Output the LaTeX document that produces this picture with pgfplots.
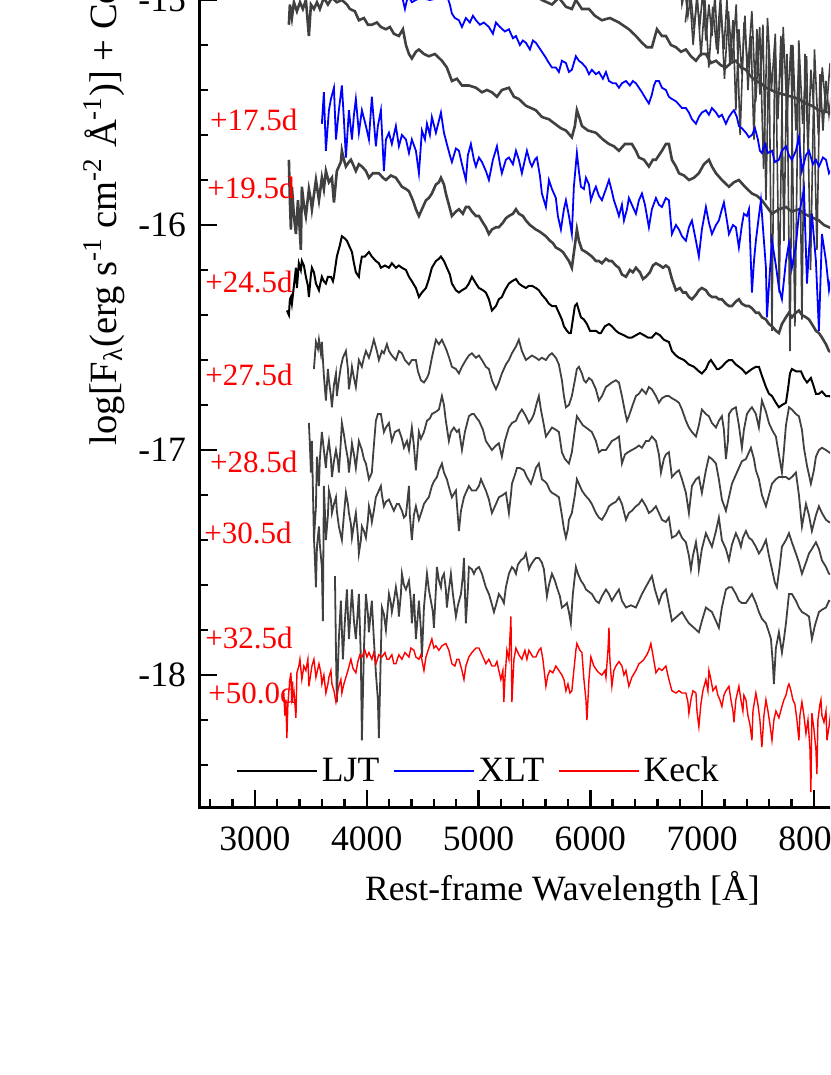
\documentclass[border=0pt]{standalone}
\usepackage{pgfplots}
\pgfplotsset{compat=1.18}
\usepackage{fontspec}
\setmainfont{Liberation Serif}
\definecolor{ljtgray}{RGB}{64,64,64}
\definecolor{xltblue}{RGB}{0,0,255}
\definecolor{keckred}{RGB}{255,0,0}

\begin{document}
\begin{tikzpicture}
\useasboundingbox (0,0) rectangle (415pt,537.5pt);
\clip (0,0) rectangle (415pt,537.5pt);
\begin{axis}[
  at={(99.5pt,133.5pt)}, anchor=south west,
  scale only axis, width=363.35pt, height=629pt,
  xmin=2500, xmax=9000, ymin=-18.591, ymax=-13,
  xtick={3000,4000,...,9000}, minor xtick={2600,2800,...,9000},
  ytick={-18,-17,-16,-15,-14,-13}, minor ytick={-18.4,-18.2,...,-13},
  tick pos=left, tick align=inside,
  major tick length=9pt, minor tick length=4.5pt,
  every tick/.append style={black, line width=1.2pt},
  axis line style={line width=1.5pt},
  /pgf/number format/assume math mode=true,
  /pgf/number format/1000 sep={},
  tick label style={font=\fontsize{17.8}{21}\selectfont},
  xticklabel style={yshift=-6pt},
  yticklabel style={xshift=-3pt},
  xlabel style={font=\fontsize{17.8}{21}\selectfont, yshift=-3pt},
  ylabel style={font=\fontsize{19.3}{23}\selectfont, at={(ticklabel cs:0.508)}},
  xlabel={Rest-frame Wavelength [Å]},
  ylabel={log[F\textsubscript{λ}(erg s\textsuperscript{-1} cm\textsuperscript{-2} Å\textsuperscript{-1})] + Constant},
  legend style={at={(axis cs:2780,-18.427)}, anchor=west, draw=none, fill=none,
    legend columns=-1, font=\fontsize{17.8}{21}\selectfont,
    /tikz/every even column/.append style={column sep=5pt}},
  legend image code/.code={\draw[#1] (0pt,0pt) -- (40pt,0pt);},
]
\addlegendimage{black, line width=0.6pt}
\addlegendentry{LJT}
\addlegendimage{xltblue, line width=0.6pt}
\addlegendentry{XLT}
\addlegendimage{keckred, line width=0.6pt}
\addlegendentry{Keck}

% noisy top-right LJT spectrum (two interleaved readings of the dense band)
\addplot[ljtgray, line width=0.8pt, forget plot] coordinates {
(6802,-14.87) (6820,-15.02) (6847,-14.96) (6873,-15.07) (6900,-14.98) (6927,-15.13)
(6954,-15.00) (6980,-15.11) (7007,-14.96) (7034,-15.18) (7061,-15.02) (7088,-15.16)
(7115,-14.98) (7141,-15.24) (7168,-15.04) (7195,-15.22) (7222,-15.00) (7249,-15.29)
(7276,-15.09) (7302,-15.49) (7329,-15.13) (7356,-15.33) (7383,-15.07) (7410,-15.40)
(7437,-15.16) (7464,-15.62) (7490,-15.13) (7517,-15.42) (7544,-15.11) (7571,-15.89)
(7598,-15.20) (7625,-16.47) (7651,-15.18) (7678,-15.53) (7705,-15.16) (7732,-16.07)
(7759,-15.24) (7786,-16.56) (7812,-15.20) (7839,-15.58) (7866,-15.27) (7893,-16.42)
(7920,-15.24) (7947,-15.67) (7973,-15.31) (8000,-15.49) (8027,-16.11) (8054,-15.33)
(8081,-15.58) (8108,-15.36) (8135,-15.51) (8161,-15.40) (8233,-15.53)
};
\addplot[ljtgray, line width=0.8pt, forget plot] coordinates {
(6850,-15.10) (6885,-14.95) (6920,-15.20) (6955,-14.97) (6990,-15.25) (7025,-15.00)
(7060,-15.30) (7095,-15.03) (7130,-15.22) (7165,-14.98) (7200,-15.35) (7235,-15.05)
(7270,-15.28) (7305,-15.02) (7340,-15.60) (7375,-15.10) (7410,-15.30) (7445,-15.05)
(7480,-15.45) (7515,-15.12) (7550,-15.75) (7585,-15.08) (7620,-15.40) (7655,-15.15)
(7690,-16.30) (7725,-15.12) (7760,-15.50) (7795,-15.20) (7830,-16.45) (7865,-15.18)
(7900,-15.55) (7935,-15.25) (7970,-16.20) (8005,-15.22) (8040,-15.60) (8075,-15.30)
(8110,-15.50) (8145,-15.28) (8180,-15.55) (8233,-15.35)
};
% top LJT spectrum
\addplot[ljtgray, line width=1.3pt, forget plot] coordinates {
(4655,-14.87) (5013,-14.89) (5370,-14.93) (5567,-15.00) (5657,-15.02) (5719,-14.99)
(5782,-15.03) (5835,-15.04) (5871,-15.00) (5925,-15.04) (5988,-15.04) (6041,-15.07)
(6104,-15.09) (6175,-15.08) (6256,-15.10) (6345,-15.13) (6408,-15.16) (6462,-15.19)
(6506,-15.21) (6551,-15.21) (6596,-15.13) (6641,-15.16) (6676,-15.16) (6721,-15.20)
(6766,-15.21) (6811,-15.23) (6855,-15.22) (6900,-15.25) (6945,-15.27) (6989,-15.24)
(7034,-15.24) (7079,-15.28) (7124,-15.27) (7168,-15.29) (7213,-15.30) (7258,-15.28)
(7302,-15.27) (7347,-15.30) (7392,-15.31) (7437,-15.34) (7481,-15.36) (7526,-15.37)
(7571,-15.39) (7616,-15.40) (7660,-15.41) (7732,-15.42) (7803,-15.43) (7866,-15.44)
(7929,-15.46) (7982,-15.47) (8045,-15.49) (8135,-15.50) (8233,-15.52)
};
% XLT upper
\addplot[xltblue, line width=0.9pt, forget plot] coordinates {
(4279,-14.89) (4324,-15.00) (4342,-15.04) (4369,-14.98) (4404,-15.01) (4476,-14.99)
(4565,-15.00) (4655,-14.99) (4717,-14.98) (4744,-15.02) (4762,-15.06) (4789,-15.08)
(4825,-15.09) (4852,-15.12) (4887,-15.08) (4923,-15.10) (4950,-15.07) (4977,-15.09)
(5013,-15.11) (5048,-15.10) (5093,-15.12) (5129,-15.15) (5156,-15.10) (5192,-15.12)
(5236,-15.14) (5272,-15.13) (5308,-15.17) (5335,-15.16) (5370,-15.20) (5397,-15.18)
(5424,-15.19) (5460,-15.22) (5487,-15.18) (5513,-15.19) (5540,-15.21) (5567,-15.23)
(5594,-15.25) (5630,-15.28) (5657,-15.30) (5692,-15.30) (5719,-15.32) (5746,-15.27)
(5782,-15.28) (5809,-15.32) (5835,-15.31) (5871,-15.25) (5898,-15.27) (5925,-15.28)
(5961,-15.30) (5988,-15.33) (6014,-15.31) (6050,-15.33) (6077,-15.32) (6113,-15.35)
(6140,-15.32) (6167,-15.36) (6202,-15.37) (6229,-15.37) (6256,-15.39) (6283,-15.37)
(6319,-15.36) (6354,-15.38) (6381,-15.36) (6408,-15.37) (6435,-15.39) (6462,-15.41)
(6498,-15.44) (6524,-15.46) (6551,-15.42) (6569,-15.38) (6587,-15.36) (6614,-15.36)
(6641,-15.39) (6676,-15.40) (6703,-15.43) (6730,-15.44) (6766,-15.45) (6820,-15.48)
(6855,-15.48) (6882,-15.50) (6909,-15.53) (6945,-15.55) (6971,-15.52) (6998,-15.50)
(7034,-15.49) (7061,-15.51) (7088,-15.48) (7124,-15.50) (7150,-15.52) (7177,-15.51)
(7213,-15.55) (7240,-15.52) (7267,-15.50) (7285,-15.49) (7311,-15.52) (7329,-15.56)
(7356,-15.57) (7392,-15.59) (7419,-15.61) (7446,-15.60) (7473,-15.57) (7499,-15.62)
(7517,-15.67) (7535,-15.68) (7562,-15.64) (7589,-15.68) (7625,-15.67) (7651,-15.72)
(7687,-15.71) (7714,-15.67) (7750,-15.65) (7777,-15.69) (7803,-15.71) (7839,-15.67)
(7866,-15.61) (7893,-15.76) (7929,-15.69) (7956,-15.67) (7991,-15.73) (8018,-15.71)
(8045,-15.74) (8081,-15.70) (8108,-15.71) (8135,-15.77) (8188,-15.73) (8233,-15.78)
};
% LJT upper-middle
\addplot[ljtgray, line width=1.3pt, forget plot] coordinates {
(3304,-15.11) (3313,-15.02) (3331,-15.08) (3349,-15.01) (3376,-15.05) (3403,-15.01)
(3429,-15.04) (3456,-15.00) (3483,-15.16) (3501,-15.02) (3528,-15.04) (3555,-15.01)
(3581,-15.04) (3617,-14.99) (3653,-15.02) (3689,-14.99) (3733,-15.01) (3778,-15.00)
(3823,-15.02) (3850,-15.04) (3894,-15.05) (3930,-15.09) (3975,-15.08) (4011,-15.11)
(4046,-15.11) (4091,-15.10) (4127,-15.12) (4172,-15.13) (4208,-15.12) (4243,-15.15)
(4288,-15.16) (4324,-15.13) (4351,-15.20) (4378,-15.24) (4404,-15.26) (4440,-15.23)
(4467,-15.22) (4512,-15.24) (4556,-15.25) (4610,-15.24) (4673,-15.27) (4717,-15.30)
(4762,-15.36) (4807,-15.35) (4852,-15.38) (4914,-15.38) (4977,-15.39) (5031,-15.41)
(5075,-15.40) (5120,-15.41) (5165,-15.43) (5209,-15.40) (5272,-15.39) (5317,-15.43)
(5361,-15.44) (5424,-15.47) (5469,-15.48) (5513,-15.49) (5567,-15.52) (5630,-15.53)
(5683,-15.55) (5737,-15.57) (5782,-15.58) (5835,-15.61) (5862,-15.56) (5880,-15.49)
(5907,-15.53) (5925,-15.56) (5979,-15.58) (6050,-15.59) (6113,-15.62) (6167,-15.64)
(6211,-15.65) (6256,-15.67) (6310,-15.64) (6372,-15.64) (6408,-15.67) (6435,-15.70)
(6480,-15.71) (6524,-15.74) (6560,-15.71) (6587,-15.71) (6641,-15.67) (6676,-15.64)
(6703,-15.64) (6730,-15.71) (6766,-15.74) (6793,-15.77) (6838,-15.78) (6882,-15.80)
(6927,-15.79) (6971,-15.77) (7016,-15.73) (7061,-15.71) (7088,-15.74) (7124,-15.77)
(7177,-15.80) (7240,-15.83) (7285,-15.81) (7329,-15.80) (7383,-15.83) (7446,-15.86)
(7490,-15.87) (7535,-15.89) (7580,-15.92) (7625,-15.95) (7687,-15.93) (7750,-15.92)
(7803,-15.94) (7866,-15.93) (7911,-15.95) (7956,-15.96) (8000,-15.97) (8045,-15.98)
(8090,-16.00) (8135,-16.01) (8233,-16.03)
};
% XLT +17.5d
\addplot[xltblue, line width=0.9pt, forget plot] coordinates {
(3599,-15.55) (3617,-15.41) (3635,-15.67) (3662,-15.49) (3680,-15.44) (3707,-15.39)
(3725,-15.62) (3751,-15.49) (3778,-15.38) (3796,-15.53) (3814,-15.70) (3841,-15.49)
(3868,-15.62) (3886,-15.51) (3903,-15.44) (3930,-15.59) (3957,-15.49) (3993,-15.56)
(4020,-15.62) (4046,-15.43) (4082,-15.65) (4100,-15.56) (4127,-15.49) (4154,-15.76)
(4172,-15.62) (4199,-15.59) (4225,-15.64) (4261,-15.56) (4288,-15.65) (4315,-15.60)
(4351,-15.62) (4378,-15.68) (4404,-15.62) (4440,-15.67) (4467,-15.77) (4494,-15.58)
(4521,-15.62) (4539,-15.55) (4565,-15.60) (4583,-15.52) (4619,-15.59) (4664,-15.50)
(4691,-15.59) (4717,-15.64) (4744,-15.69) (4762,-15.72) (4798,-15.66) (4825,-15.67)
(4852,-15.73) (4887,-15.80) (4905,-15.69) (4932,-15.64) (4959,-15.71) (4977,-15.74)
(5004,-15.70) (5031,-15.72) (5066,-15.76) (5093,-15.80) (5129,-15.71) (5165,-15.65)
(5192,-15.73) (5209,-15.77) (5245,-15.71) (5272,-15.70) (5308,-15.73) (5335,-15.67)
(5361,-15.71) (5388,-15.77) (5415,-15.71) (5433,-15.67) (5460,-15.72) (5478,-15.74)
(5504,-15.71) (5522,-15.70) (5549,-15.78) (5567,-15.86) (5603,-15.92) (5630,-15.80)
(5657,-15.84) (5692,-15.88) (5710,-15.96) (5737,-16.02) (5764,-15.93) (5782,-15.89)
(5809,-15.96) (5835,-16.04) (5853,-15.83) (5880,-15.68) (5898,-15.76) (5916,-15.83)
(5943,-15.84) (5961,-15.79) (5988,-15.82) (6005,-15.89) (6032,-15.85) (6050,-15.83)
(6077,-15.87) (6104,-15.89) (6140,-15.84) (6167,-15.80) (6193,-15.85) (6211,-15.89)
(6238,-15.93) (6256,-15.96) (6283,-15.91) (6301,-15.98) (6328,-15.93) (6345,-15.88)
(6372,-15.91) (6408,-15.95) (6435,-15.89) (6462,-15.86) (6489,-15.91) (6524,-16.01)
(6551,-15.93) (6587,-15.88) (6614,-15.91) (6641,-15.92) (6676,-15.88) (6703,-15.89)
(6730,-16.04) (6766,-16.00) (6793,-16.02) (6820,-16.05) (6855,-16.07) (6882,-16.01)
(6909,-15.98) (6945,-16.07) (6971,-16.14) (6998,-16.02) (7034,-15.92) (7061,-15.99)
(7088,-16.04) (7124,-16.00) (7150,-15.98) (7177,-15.93) (7195,-15.90) (7222,-15.98)
(7240,-16.04) (7276,-16.00) (7302,-16.01) (7329,-16.10) (7356,-16.00) (7374,-15.95)
(7401,-15.96) (7419,-15.93) (7446,-16.30) (7464,-16.16) (7481,-16.07) (7508,-15.96)
(7526,-15.89) (7553,-16.07) (7571,-16.19) (7580,-16.41) (7607,-16.20) (7625,-16.07)
(7660,-16.18) (7687,-16.28) (7714,-16.33) (7750,-16.16) (7777,-16.08) (7803,-16.19)
(7839,-16.09) (7866,-15.95) (7893,-15.89) (7911,-15.84) (7938,-16.26) (7956,-16.11)
(7982,-15.95) (8018,-16.16) (8045,-16.47) (8072,-16.04) (8108,-16.16) (8135,-16.29)
(8188,-16.13) (8233,-16.22)
};
% LJT +19.5d
\addplot[ljtgray, line width=1.3pt, forget plot] coordinates {
(3304,-15.71) (3313,-15.89) (3322,-16.02) (3331,-15.83) (3349,-15.96) (3367,-16.04)
(3385,-15.89) (3393,-15.95) (3411,-16.11) (3420,-15.83) (3438,-15.91) (3456,-15.96)
(3483,-15.84) (3501,-15.89) (3510,-15.93) (3546,-15.80) (3573,-15.89) (3599,-15.79)
(3617,-15.84) (3635,-15.76) (3662,-15.81) (3689,-15.79) (3707,-15.90) (3733,-15.76)
(3769,-15.72) (3778,-15.67) (3796,-15.71) (3814,-15.74) (3841,-15.72) (3859,-15.71)
(3886,-15.74) (3903,-15.76) (3930,-15.73) (3957,-15.74) (3993,-15.76) (4020,-15.79)
(4055,-15.77) (4109,-15.77) (4145,-15.79) (4172,-15.80) (4216,-15.78) (4261,-15.79)
(4288,-15.81) (4315,-15.83) (4351,-15.84) (4378,-15.85) (4413,-15.89) (4440,-15.93)
(4467,-15.96) (4503,-15.92) (4530,-15.89) (4556,-15.88) (4583,-15.86) (4619,-15.82)
(4646,-15.81) (4664,-15.79) (4691,-15.82) (4708,-15.86) (4735,-15.91) (4762,-15.96)
(4798,-15.94) (4825,-15.93) (4860,-15.95) (4887,-15.92) (4914,-15.92) (4941,-15.94)
(4977,-15.96) (5004,-15.96) (5040,-15.99) (5066,-16.01) (5093,-16.04) (5120,-16.02)
(5156,-16.01) (5182,-16.01) (5218,-15.99) (5245,-15.97) (5272,-15.96) (5308,-15.95)
(5335,-15.93) (5361,-15.95) (5397,-15.96) (5424,-15.98) (5460,-16.00) (5487,-16.01)
(5513,-16.02) (5549,-16.03) (5576,-16.04) (5603,-16.05) (5639,-16.07) (5665,-16.08)
(5692,-16.10) (5728,-16.11) (5755,-16.12) (5782,-16.14) (5809,-16.16) (5835,-16.19)
(5862,-16.09) (5880,-16.02) (5898,-16.07) (5925,-16.11) (5961,-16.12) (5988,-16.13)
(6014,-16.14) (6050,-16.16) (6077,-16.16) (6104,-16.17) (6140,-16.15) (6167,-16.16)
(6193,-16.16) (6229,-16.18) (6256,-16.19) (6283,-16.22) (6319,-16.23) (6354,-16.20)
(6381,-16.21) (6408,-16.19) (6444,-16.21) (6471,-16.24) (6498,-16.23) (6533,-16.21)
(6560,-16.18) (6587,-16.17) (6623,-16.18) (6650,-16.19) (6676,-16.18) (6703,-16.19)
(6730,-16.24) (6766,-16.29) (6802,-16.28) (6829,-16.30) (6855,-16.30) (6882,-16.32)
(6909,-16.33) (6945,-16.31) (6971,-16.29) (6998,-16.28) (7034,-16.29) (7061,-16.31)
(7088,-16.32) (7124,-16.32) (7150,-16.33) (7177,-16.33) (7213,-16.35) (7240,-16.36)
(7267,-16.36) (7302,-16.34) (7329,-16.33) (7356,-16.35) (7392,-16.36) (7419,-16.36)
(7446,-16.37) (7481,-16.39) (7508,-16.39) (7535,-16.41) (7571,-16.42) (7598,-16.44)
(7625,-16.45) (7660,-16.47) (7687,-16.48) (7714,-16.44) (7750,-16.41) (7777,-16.39)
(7803,-16.41) (7839,-16.39) (7866,-16.38) (7893,-16.40) (7929,-16.41) (7956,-16.42)
(7982,-16.44) (8018,-16.47) (8045,-16.48) (8072,-16.50) (8108,-16.53) (8135,-16.56)
(8233,-16.58)
};
% LJT +24.5d
\addplot[black, line width=1.0pt, forget plot] coordinates {
(3286,-16.38) (3304,-16.40) (3313,-16.33) (3322,-16.32) (3331,-16.35) (3349,-16.27)
(3367,-16.19) (3376,-16.28) (3393,-16.17) (3411,-16.20) (3420,-16.16) (3438,-16.18)
(3456,-16.23) (3474,-16.27) (3483,-16.32) (3501,-16.22) (3510,-16.19) (3528,-16.21)
(3546,-16.26) (3573,-16.29) (3581,-16.27) (3599,-16.23) (3617,-16.25) (3635,-16.26)
(3653,-16.23) (3680,-16.23) (3698,-16.25) (3707,-16.23) (3733,-16.14) (3760,-16.09)
(3778,-16.05) (3805,-16.06) (3823,-16.07) (3850,-16.10) (3868,-16.12) (3886,-16.17)
(3903,-16.21) (3930,-16.23) (3939,-16.19) (3957,-16.14) (3984,-16.14) (4020,-16.12)
(4046,-16.14) (4082,-16.16) (4109,-16.17) (4127,-16.19) (4163,-16.18) (4199,-16.19)
(4225,-16.17) (4261,-16.19) (4288,-16.18) (4315,-16.19) (4351,-16.20) (4378,-16.23)
(4404,-16.25) (4440,-16.28) (4467,-16.32) (4494,-16.30) (4530,-16.28) (4556,-16.24)
(4583,-16.19) (4619,-16.16) (4646,-16.15) (4664,-16.14) (4691,-16.16) (4717,-16.19)
(4744,-16.22) (4762,-16.26) (4798,-16.29) (4825,-16.30) (4852,-16.29) (4887,-16.28)
(4914,-16.26) (4941,-16.23) (4977,-16.26) (5004,-16.28) (5040,-16.29) (5066,-16.30)
(5093,-16.33) (5120,-16.38) (5156,-16.36) (5182,-16.33) (5209,-16.32) (5236,-16.29)
(5272,-16.26) (5299,-16.25) (5335,-16.24) (5361,-16.26) (5388,-16.27) (5424,-16.28)
(5451,-16.27) (5478,-16.27) (5513,-16.28) (5540,-16.29) (5567,-16.31) (5603,-16.33)
(5630,-16.35) (5657,-16.36) (5692,-16.36) (5719,-16.39) (5746,-16.42) (5764,-16.45)
(5791,-16.47) (5809,-16.48) (5826,-16.48) (5844,-16.42) (5862,-16.36) (5880,-16.35)
(5898,-16.38) (5916,-16.41) (5943,-16.42) (5970,-16.44) (5997,-16.47) (6023,-16.47)
(6050,-16.47) (6077,-16.48) (6095,-16.48) (6131,-16.45) (6167,-16.44) (6193,-16.45)
(6229,-16.47) (6256,-16.48) (6301,-16.49) (6337,-16.50) (6372,-16.50) (6408,-16.49)
(6444,-16.48) (6480,-16.49) (6515,-16.50) (6551,-16.50) (6587,-16.48) (6623,-16.49)
(6658,-16.51) (6703,-16.52) (6730,-16.56) (6766,-16.58) (6793,-16.59) (6838,-16.60)
(6882,-16.62) (6927,-16.63) (6971,-16.65) (6998,-16.66) (7034,-16.64) (7061,-16.61)
(7079,-16.60) (7106,-16.62) (7132,-16.64) (7150,-16.64) (7177,-16.63) (7213,-16.61)
(7240,-16.60) (7267,-16.60) (7302,-16.62) (7329,-16.63) (7356,-16.64) (7392,-16.66)
(7419,-16.65) (7446,-16.64) (7481,-16.63) (7508,-16.63) (7535,-16.67) (7571,-16.72)
(7598,-16.75) (7625,-16.76) (7660,-16.79) (7687,-16.81) (7714,-16.80) (7750,-16.79)
(7768,-16.73) (7786,-16.66) (7803,-16.64) (7839,-16.65) (7866,-16.65) (7884,-16.65)
(7911,-16.68) (7938,-16.70) (7956,-16.69) (7973,-16.68) (8000,-16.72) (8018,-16.75)
(8045,-16.75) (8072,-16.74) (8108,-16.76) (8135,-16.76) (8233,-16.78)
};
% LJT +27.5d
\addplot[ljtgray, line width=0.9pt, forget plot] coordinates {
(3528,-16.64) (3537,-16.58) (3546,-16.52) (3564,-16.55) (3573,-16.51) (3590,-16.57)
(3599,-16.52) (3617,-16.67) (3635,-16.78) (3653,-16.64) (3662,-16.69) (3680,-16.76)
(3689,-16.81) (3707,-16.71) (3725,-16.66) (3733,-16.76) (3751,-16.69) (3769,-16.63)
(3787,-16.59) (3814,-16.56) (3832,-16.64) (3841,-16.73) (3859,-16.67) (3868,-16.63)
(3886,-16.68) (3903,-16.72) (3921,-16.64) (3930,-16.60) (3957,-16.63) (3975,-16.59)
(3993,-16.56) (4020,-16.59) (4038,-16.56) (4064,-16.51) (4091,-16.56) (4109,-16.60)
(4136,-16.56) (4154,-16.57) (4181,-16.53) (4199,-16.56) (4225,-16.58) (4261,-16.60)
(4288,-16.56) (4315,-16.57) (4342,-16.60) (4378,-16.62) (4404,-16.60) (4440,-16.60)
(4458,-16.65) (4485,-16.69) (4512,-16.70) (4539,-16.68) (4556,-16.66) (4583,-16.59)
(4601,-16.55) (4619,-16.51) (4646,-16.53) (4673,-16.51) (4700,-16.54) (4717,-16.56)
(4744,-16.60) (4762,-16.63) (4798,-16.64) (4825,-16.66) (4852,-16.63) (4887,-16.60)
(4914,-16.58) (4941,-16.57) (4977,-16.59) (5004,-16.58) (5031,-16.60) (5066,-16.63)
(5093,-16.64) (5120,-16.69) (5156,-16.73) (5182,-16.70) (5209,-16.66) (5245,-16.62)
(5272,-16.60) (5299,-16.57) (5335,-16.54) (5361,-16.51) (5388,-16.56) (5424,-16.60)
(5451,-16.59) (5478,-16.58) (5513,-16.59) (5540,-16.60) (5567,-16.59) (5603,-16.60)
(5630,-16.58) (5657,-16.57) (5692,-16.59) (5719,-16.62) (5746,-16.69) (5764,-16.76)
(5782,-16.81) (5809,-16.80) (5835,-16.76) (5862,-16.69) (5880,-16.64) (5898,-16.63)
(5925,-16.66) (5943,-16.69) (5961,-16.70) (5988,-16.68) (6014,-16.69) (6050,-16.73)
(6077,-16.78) (6104,-16.76) (6140,-16.72) (6167,-16.71) (6193,-16.70) (6229,-16.69)
(6256,-16.70) (6283,-16.76) (6310,-16.83) (6328,-16.87) (6345,-16.85) (6372,-16.81)
(6408,-16.76) (6435,-16.75) (6462,-16.73) (6498,-16.75) (6524,-16.72) (6551,-16.73)
(6587,-16.76) (6614,-16.79) (6641,-16.77) (6676,-16.76) (6703,-16.76) (6730,-16.77)
(6766,-16.78) (6793,-16.79) (6820,-16.82) (6855,-16.87) (6882,-16.90) (6909,-16.92)
(6945,-16.94) (6971,-16.89) (6998,-16.82) (7034,-16.84) (7061,-16.85) (7088,-16.88)
(7124,-16.90) (7150,-16.87) (7177,-16.85) (7195,-16.91) (7213,-17.04) (7231,-16.96)
(7240,-16.84) (7267,-16.82) (7302,-16.81) (7329,-16.89) (7356,-16.99) (7374,-16.91)
(7401,-16.84) (7428,-16.82) (7446,-16.81) (7481,-16.84) (7508,-16.90) (7535,-16.78)
(7571,-16.83) (7598,-16.88) (7625,-16.91) (7660,-16.94) (7687,-17.02) (7714,-17.10)
(7732,-17.00) (7750,-16.89) (7777,-16.81) (7803,-16.82) (7839,-16.84) (7866,-16.85)
(7893,-16.91) (7911,-16.99) (7938,-17.07) (7956,-17.11) (7973,-17.15) (8000,-17.09)
(8018,-17.03) (8045,-17.00) (8072,-16.99) (8108,-17.00) (8135,-17.01) (8233,-17.04)
};
% LJT +28.5d
\addplot[ljtgray, line width=0.9pt, forget plot] coordinates {
(3483,-16.88) (3492,-16.98) (3501,-17.10) (3510,-16.96) (3519,-17.18) (3528,-17.40)
(3546,-17.25) (3555,-17.03) (3573,-17.16) (3581,-17.04) (3599,-16.92) (3617,-17.00)
(3635,-17.08) (3644,-17.02) (3662,-16.96) (3680,-17.04) (3689,-17.12) (3707,-17.05)
(3725,-17.00) (3742,-17.05) (3751,-17.10) (3769,-16.96) (3778,-16.88) (3796,-16.93)
(3814,-16.99) (3832,-17.04) (3841,-17.10) (3859,-17.02) (3868,-16.97) (3886,-17.02)
(3903,-17.08) (3921,-17.00) (3930,-16.96) (3957,-17.00) (3975,-17.04) (3993,-17.06)
(4020,-17.13) (4038,-17.11) (4046,-17.10) (4064,-16.98) (4082,-16.87) (4100,-16.84)
(4127,-16.84) (4154,-16.92) (4172,-16.90) (4199,-16.88) (4225,-16.96) (4252,-16.92)
(4288,-16.91) (4315,-16.95) (4333,-16.99) (4360,-16.96) (4378,-17.00) (4404,-16.90)
(4422,-16.98) (4440,-17.09) (4467,-16.92) (4485,-16.95) (4512,-16.92) (4539,-16.87)
(4565,-16.86) (4583,-16.84) (4619,-16.83) (4646,-16.82) (4673,-16.76) (4691,-16.80)
(4708,-16.87) (4735,-16.96) (4753,-16.92) (4780,-16.90) (4807,-16.92) (4825,-16.91)
(4852,-17.00) (4878,-16.92) (4914,-16.85) (4941,-16.84) (4959,-16.84) (4986,-16.86)
(5004,-16.87) (5040,-16.91) (5066,-16.96) (5093,-16.98) (5120,-17.00) (5156,-16.98)
(5182,-16.97) (5209,-17.03) (5236,-16.96) (5272,-16.90) (5299,-16.88) (5335,-16.87)
(5361,-16.84) (5388,-16.82) (5424,-16.85) (5451,-16.88) (5478,-16.86) (5496,-16.84)
(5522,-16.79) (5540,-16.76) (5558,-16.82) (5585,-16.89) (5603,-16.94) (5630,-16.92)
(5657,-16.90) (5692,-16.91) (5719,-16.92) (5746,-17.01) (5773,-17.04) (5809,-17.06)
(5835,-17.01) (5862,-16.91) (5880,-16.85) (5907,-16.87) (5934,-16.89) (5961,-16.90)
(5988,-16.91) (6014,-16.92) (6050,-16.96) (6077,-17.01) (6104,-17.00) (6140,-17.00)
(6167,-16.98) (6193,-16.96) (6229,-16.95) (6256,-16.94) (6283,-17.06) (6310,-17.02)
(6337,-17.01) (6372,-17.00) (6408,-16.99) (6435,-16.98) (6462,-16.99) (6498,-16.96)
(6524,-16.96) (6551,-16.94) (6587,-16.96) (6614,-17.02) (6632,-17.10) (6658,-17.04)
(6676,-17.02) (6703,-17.01) (6730,-17.12) (6766,-17.10) (6793,-17.09) (6820,-17.13)
(6855,-17.19) (6882,-17.28) (6909,-17.16) (6945,-17.13) (6971,-17.12) (6998,-17.19)
(7034,-17.09) (7061,-17.03) (7088,-17.04) (7124,-17.06) (7150,-17.13) (7177,-17.22)
(7213,-17.27) (7240,-17.21) (7267,-17.15) (7302,-17.11) (7329,-17.08) (7356,-17.05)
(7392,-17.04) (7419,-17.01) (7437,-16.99) (7464,-17.04) (7481,-17.09) (7508,-17.13)
(7535,-17.20) (7571,-17.25) (7598,-17.20) (7625,-17.15) (7660,-17.13) (7687,-17.12)
(7714,-17.12) (7750,-17.12) (7777,-17.13) (7803,-17.12) (7839,-17.10) (7866,-17.20)
(7893,-17.34) (7911,-17.29) (7929,-17.24) (7956,-17.29) (7982,-17.36) (8018,-17.29)
(8045,-17.25) (8072,-17.28) (8108,-17.31) (8135,-17.32) (8233,-17.34)
};
% LJT +30.5d
\addplot[ljtgray, line width=0.9pt, forget plot] coordinates {
(3528,-17.39) (3537,-17.49) (3546,-17.61) (3555,-17.43) (3573,-17.34) (3581,-17.42)
(3599,-17.52) (3608,-17.76) (3617,-17.16) (3626,-17.27) (3635,-17.40) (3653,-17.29)
(3662,-17.18) (3680,-17.22) (3689,-17.28) (3707,-17.24) (3725,-17.21) (3733,-17.27)
(3751,-17.34) (3778,-17.40) (3796,-17.29) (3814,-17.19) (3832,-17.24) (3841,-17.28)
(3859,-17.33) (3868,-17.39) (3886,-17.33) (3903,-17.28) (3921,-17.38) (3930,-17.46)
(3948,-17.40) (3957,-17.34) (3975,-17.36) (3993,-17.39) (4011,-17.31) (4020,-17.25)
(4038,-17.29) (4046,-17.32) (4064,-17.27) (4082,-17.21) (4100,-17.19) (4127,-17.16)
(4136,-17.20) (4154,-17.25) (4172,-17.23) (4199,-17.22) (4225,-17.25) (4243,-17.27)
(4270,-17.24) (4288,-17.24) (4315,-17.27) (4333,-17.30) (4351,-17.29) (4378,-17.16)
(4386,-17.29) (4404,-17.40) (4422,-17.29) (4440,-17.25) (4458,-17.29) (4467,-17.31)
(4494,-17.27) (4512,-17.24) (4539,-17.22) (4556,-17.21) (4583,-17.16) (4601,-17.14)
(4628,-17.12) (4646,-17.09) (4673,-17.06) (4691,-17.10) (4717,-17.13) (4744,-17.18)
(4762,-17.21) (4798,-17.18) (4825,-17.36) (4843,-17.27) (4870,-17.21) (4887,-17.19)
(4914,-17.16) (4941,-17.18) (4977,-17.18) (5004,-17.16) (5022,-17.13) (5048,-17.16)
(5066,-17.18) (5093,-17.22) (5120,-17.28) (5156,-17.24) (5182,-17.21) (5218,-17.20)
(5245,-17.19) (5272,-17.28) (5290,-17.20) (5299,-17.15) (5326,-17.11) (5344,-17.08)
(5370,-17.08) (5406,-17.09) (5433,-17.12) (5469,-17.15) (5496,-17.11) (5513,-17.08)
(5540,-17.06) (5567,-17.13) (5594,-17.14) (5612,-17.15) (5639,-17.18) (5657,-17.19)
(5692,-17.20) (5719,-17.21) (5746,-17.29) (5764,-17.35) (5782,-17.39) (5800,-17.35)
(5809,-17.31) (5835,-17.28) (5862,-17.20) (5880,-17.13) (5907,-17.16) (5925,-17.18)
(5952,-17.20) (5988,-17.22) (6014,-17.24) (6050,-17.28) (6077,-17.30) (6104,-17.31)
(6140,-17.28) (6167,-17.25) (6193,-17.24) (6229,-17.23) (6256,-17.21) (6283,-17.24)
(6319,-17.31) (6345,-17.28) (6372,-17.27) (6408,-17.25) (6435,-17.24) (6462,-17.22)
(6498,-17.25) (6524,-17.28) (6551,-17.27) (6587,-17.25) (6614,-17.28) (6641,-17.31)
(6676,-17.32) (6703,-17.30) (6730,-17.39) (6766,-17.38) (6793,-17.36) (6820,-17.39)
(6855,-17.41) (6882,-17.47) (6900,-17.53) (6918,-17.47) (6945,-17.41) (6962,-17.47)
(6971,-17.53) (6998,-17.44) (7034,-17.37) (7061,-17.40) (7088,-17.43) (7124,-17.36)
(7150,-17.30) (7177,-17.40) (7213,-17.44) (7240,-17.49) (7267,-17.42) (7302,-17.37)
(7329,-17.40) (7347,-17.43) (7365,-17.39) (7392,-17.36) (7419,-17.39) (7446,-17.40)
(7481,-17.43) (7508,-17.46) (7535,-17.44) (7571,-17.40) (7598,-17.47) (7625,-17.53)
(7651,-17.59) (7669,-17.61) (7696,-17.51) (7714,-17.43) (7750,-17.40) (7777,-17.37)
(7803,-17.41) (7839,-17.46) (7866,-17.50) (7893,-17.55) (7929,-17.50) (7956,-17.46)
(7982,-17.44) (8018,-17.41) (8045,-17.44) (8072,-17.49) (8108,-17.52) (8135,-17.55)
(8233,-17.56)
};
% LJT +32.5d
\addplot[ljtgray, line width=0.9pt, forget plot] coordinates {
(3716,-17.56) (3725,-17.89) (3733,-18.12) (3751,-17.84) (3769,-17.67) (3787,-17.93)
(3805,-17.76) (3823,-17.62) (3841,-17.84) (3868,-17.62) (3886,-17.76) (3903,-17.84)
(3921,-17.71) (3930,-17.64) (3948,-17.93) (3957,-18.29) (3975,-17.89) (3993,-17.64)
(4011,-17.73) (4020,-17.81) (4038,-17.71) (4046,-17.67) (4064,-17.84) (4082,-17.99)
(4100,-18.11) (4109,-18.28) (4127,-17.89) (4136,-17.70) (4154,-17.73) (4172,-17.80)
(4190,-17.69) (4199,-17.64) (4216,-17.68) (4225,-17.72) (4243,-17.67) (4261,-17.61)
(4279,-17.67) (4288,-17.74) (4306,-17.64) (4315,-17.55) (4333,-17.60) (4351,-17.62)
(4378,-17.58) (4395,-17.67) (4404,-17.77) (4422,-17.64) (4440,-17.84) (4458,-17.73)
(4467,-17.67) (4485,-17.80) (4494,-17.92) (4512,-17.70) (4530,-17.60) (4539,-17.55)
(4556,-17.62) (4574,-17.67) (4592,-17.72) (4601,-17.79) (4619,-17.62) (4628,-17.52)
(4646,-17.58) (4664,-17.61) (4673,-17.57) (4691,-17.55) (4708,-17.62) (4717,-17.70)
(4735,-17.62) (4753,-17.55) (4771,-17.64) (4798,-17.74) (4816,-17.69) (4843,-17.64)
(4860,-17.56) (4870,-17.48) (4878,-17.62) (4887,-17.77) (4905,-17.62) (4914,-17.52)
(4941,-17.53) (4959,-17.55) (4977,-17.53) (5004,-17.52) (5031,-17.55) (5048,-17.58)
(5066,-17.61) (5093,-17.64) (5111,-17.67) (5138,-17.72) (5156,-17.69) (5182,-17.64)
(5209,-17.66) (5227,-17.68) (5245,-17.61) (5272,-17.55) (5299,-17.52) (5317,-17.53)
(5335,-17.55) (5352,-17.51) (5379,-17.49) (5406,-17.48) (5424,-17.46) (5451,-17.53)
(5469,-17.51) (5496,-17.49) (5513,-17.48) (5540,-17.48) (5567,-17.50) (5585,-17.53)
(5612,-17.65) (5630,-17.60) (5657,-17.55) (5683,-17.58) (5701,-17.61) (5728,-17.65)
(5746,-17.70) (5773,-17.69) (5791,-17.68) (5809,-17.72) (5826,-17.77) (5844,-17.64)
(5871,-17.52) (5889,-17.55) (5916,-17.58) (5943,-17.60) (5961,-17.62) (5988,-17.63)
(6014,-17.64) (6050,-17.67) (6077,-17.68) (6104,-17.65) (6140,-17.62) (6167,-17.64)
(6193,-17.67) (6229,-17.64) (6256,-17.62) (6283,-17.67) (6319,-17.70) (6363,-17.69)
(6408,-17.70) (6435,-17.67) (6462,-17.64) (6506,-17.60) (6551,-17.56) (6578,-17.62)
(6614,-17.68) (6641,-17.64) (6676,-17.62) (6703,-17.69) (6730,-17.76) (6775,-17.74)
(6820,-17.72) (6855,-17.75) (6882,-17.77) (6927,-17.79) (6971,-17.81) (6998,-17.76)
(7034,-17.70) (7061,-17.71) (7088,-17.72) (7124,-17.76) (7150,-17.79) (7177,-17.70)
(7213,-17.62) (7240,-17.61) (7267,-17.61) (7302,-17.64) (7329,-17.67) (7356,-17.68)
(7392,-17.68) (7419,-17.66) (7446,-17.64) (7481,-17.68) (7508,-17.72) (7535,-17.75)
(7571,-17.77) (7598,-17.81) (7616,-17.84) (7634,-17.96) (7642,-18.04) (7660,-17.88)
(7687,-17.81) (7714,-17.90) (7732,-17.84) (7750,-17.77) (7777,-17.64) (7803,-17.64)
(7839,-17.67) (7866,-17.70) (7893,-17.72) (7929,-17.73) (7956,-17.74) (7982,-17.84)
(8009,-17.78) (8045,-17.72) (8072,-17.71) (8108,-17.70) (8135,-17.67) (8233,-17.69)
};
% Keck +50.0d
\addplot[keckred, line width=0.7pt, forget plot] coordinates {
(3259,-18.08) (3268,-18.18) (3277,-18.11) (3286,-18.28) (3295,-18.13) (3304,-18.07)
(3313,-18.02) (3322,-17.99) (3331,-18.11) (3349,-18.07) (3367,-18.19) (3376,-17.99)
(3393,-17.96) (3403,-17.93) (3420,-18.02) (3438,-17.96) (3456,-17.98) (3474,-17.93)
(3483,-18.05) (3501,-17.99) (3510,-17.96) (3528,-17.93) (3546,-18.01) (3564,-17.97)
(3573,-17.95) (3590,-17.99) (3599,-18.04) (3617,-18.00) (3635,-18.08) (3653,-18.04)
(3662,-18.01) (3680,-17.98) (3689,-18.04) (3707,-18.07) (3725,-18.12) (3742,-18.07)
(3751,-18.05) (3769,-18.02) (3778,-18.08) (3796,-18.04) (3814,-18.01) (3832,-17.98)
(3859,-17.93) (3877,-17.97) (3903,-17.99) (3921,-17.94) (3939,-17.91) (3957,-17.92)
(3984,-17.89) (4002,-17.92) (4020,-17.90) (4046,-17.93) (4064,-17.90) (4082,-17.95)
(4109,-17.91) (4136,-17.92) (4163,-17.90) (4181,-17.93) (4199,-17.93) (4225,-17.91)
(4243,-17.95) (4261,-17.95) (4288,-17.91) (4315,-17.93) (4342,-17.90) (4378,-17.92)
(4395,-17.88) (4422,-17.89) (4440,-17.92) (4467,-17.93) (4485,-17.91) (4512,-17.98)
(4530,-17.92) (4556,-17.88) (4583,-17.84) (4601,-17.88) (4619,-17.87) (4646,-17.89)
(4673,-17.87) (4708,-17.86) (4735,-17.89) (4762,-17.95) (4789,-17.96) (4807,-17.93)
(4825,-17.93) (4852,-17.98) (4870,-18.02) (4887,-17.96) (4914,-17.92) (4941,-17.90)
(4977,-17.88) (5004,-17.88) (5031,-17.91) (5066,-17.95) (5093,-17.93) (5120,-17.96)
(5147,-17.96) (5165,-17.94) (5182,-17.98) (5200,-18.02) (5218,-17.98) (5227,-18.12)
(5236,-18.02) (5254,-17.89) (5272,-17.93) (5290,-17.74) (5299,-18.12) (5317,-17.93)
(5335,-17.88) (5361,-17.91) (5388,-17.93) (5415,-17.89) (5433,-17.93) (5451,-17.89)
(5487,-17.92) (5513,-17.92) (5540,-17.89) (5558,-17.88) (5576,-17.93) (5603,-18.05)
(5621,-18.00) (5639,-17.98) (5665,-17.99) (5692,-17.96) (5719,-17.98) (5746,-18.00)
(5764,-18.02) (5782,-18.07) (5800,-18.04) (5818,-18.08) (5835,-18.07) (5853,-17.98)
(5871,-17.89) (5880,-17.86) (5907,-17.89) (5925,-17.90) (5943,-18.02) (5961,-18.11)
(5970,-18.20) (5988,-18.02) (6005,-17.92) (6032,-17.96) (6059,-17.98) (6077,-17.99)
(6104,-18.00) (6131,-17.98) (6140,-18.01) (6158,-17.89) (6167,-17.79) (6175,-17.93)
(6193,-18.05) (6211,-17.98) (6229,-17.96) (6256,-17.94) (6283,-17.96) (6301,-18.00)
(6319,-17.98) (6345,-18.05) (6372,-18.01) (6408,-17.98) (6435,-17.95) (6462,-17.94)
(6480,-17.93) (6506,-17.91) (6524,-17.89) (6542,-17.86) (6560,-17.91) (6587,-17.99)
(6614,-17.97) (6641,-17.98) (6676,-17.96) (6703,-18.02) (6730,-18.07) (6766,-18.08)
(6793,-18.07) (6820,-18.08) (6855,-18.08) (6873,-18.12) (6882,-18.17) (6900,-18.11)
(6918,-18.07) (6945,-18.08) (6954,-18.16) (6971,-18.23) (6989,-18.13) (7007,-18.07)
(7034,-18.02) (7052,-18.07) (7061,-17.98) (7079,-18.02) (7097,-18.07) (7124,-18.05)
(7141,-18.09) (7159,-18.11) (7177,-18.14) (7195,-18.09) (7213,-18.07) (7240,-18.05)
(7258,-18.11) (7276,-18.16) (7285,-18.21) (7302,-18.11) (7320,-18.07) (7329,-18.05)
(7347,-18.11) (7365,-18.16) (7374,-18.09) (7392,-18.11) (7410,-18.18) (7428,-18.22)
(7446,-18.29) (7455,-18.16) (7481,-18.08) (7499,-18.13) (7517,-18.20) (7535,-18.32)
(7553,-18.18) (7571,-18.11) (7589,-18.16) (7607,-18.22) (7625,-18.29) (7642,-18.20)
(7660,-18.16) (7687,-18.19) (7714,-18.14) (7732,-18.11) (7750,-18.09) (7768,-18.05)
(7777,-18.04) (7795,-18.07) (7812,-18.11) (7830,-18.13) (7848,-18.20) (7866,-18.29)
(7875,-18.18) (7893,-18.12) (7911,-18.18) (7929,-18.26) (7947,-18.20) (7965,-18.33)
(7973,-18.52) (7982,-18.17) (8000,-18.24) (8018,-18.33) (8027,-18.44) (8036,-18.20)
(8054,-18.13) (8063,-18.11) (8072,-18.18) (8090,-18.21) (8108,-18.16) (8117,-18.29)
(8135,-18.23) (8152,-18.16) (8188,-18.20) (8233,-18.18)
};

\begin{scope}[every node/.style={anchor=west, inner sep=0pt, text=keckred,
  font=\fontsize{15.5}{18}\selectfont}]
\node at (axis cs:2597,-15.533) {+17.5d};
\node at (axis cs:2571,-15.836) {+19.5d};
\node at (axis cs:2553,-16.253) {+24.5d};
\node at (axis cs:2553,-16.667) {+27.5d};
\node at (axis cs:2597,-17.053) {+28.5d};
\node at (axis cs:2544,-17.369) {+30.5d};
\node at (axis cs:2553,-17.836) {+32.5d};
\node at (axis cs:2580,-18.080) {+50.0d};
\end{scope}
\end{axis}
\end{tikzpicture}
\end{document}
